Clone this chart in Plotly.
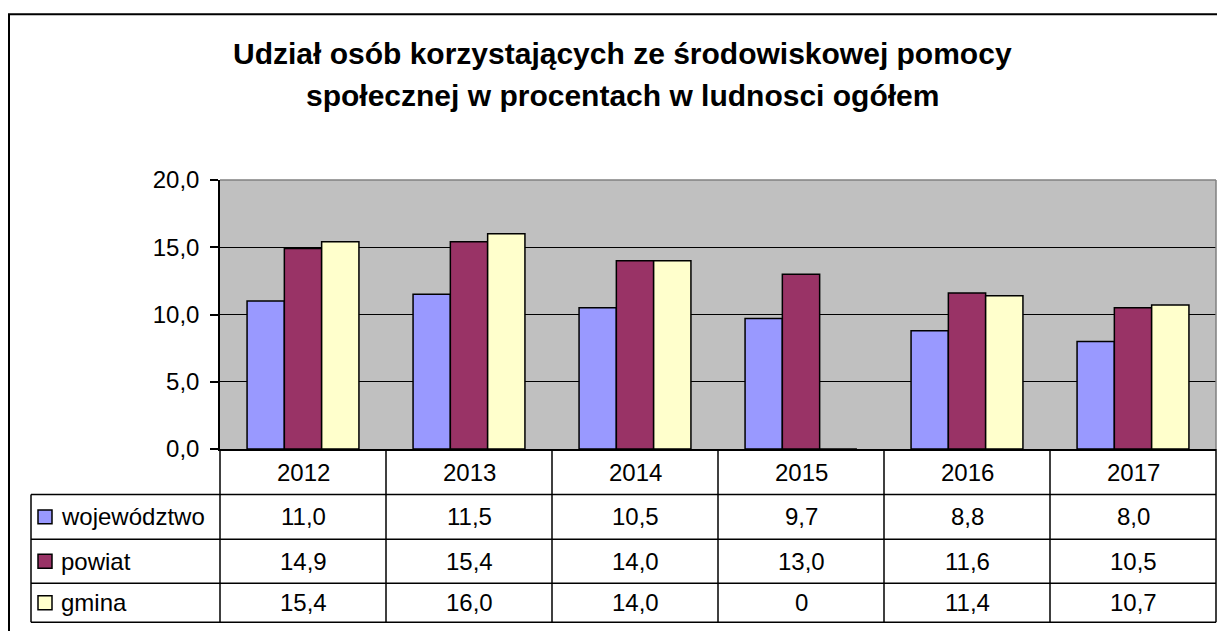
import plotly.graph_objects as go

years = ["2012", "2013", "2014", "2015", "2016", "2017"]
series_names = ["województwo", "powiat", "gmina"]
wojewodztwo = [11.0, 11.5, 10.5, 9.7, 8.8, 8.0]
powiat = [14.9, 15.4, 14.0, 13.0, 11.6, 10.5]
gmina = [15.4, 16.0, 14.0, 0, 11.4, 10.7]
series_values = [wojewodztwo, powiat, gmina]
series_colors = ["#9999FF", "#993366", "#FFFFCC"]
y_ticks = [0, 5, 10, 15, 20]
title_lines = ["Udział osób korzystających ze środowiskowej pomocy",
               "społecznej w procentach w ludnosci ogółem"]

OFF = 8  # page body margin
W, H = 1225 - 2 * OFF, 639 - 2 * OFF
# plot area in page pixels
L, R, T, B = 220, 1216, 180, 449.5
FONT = "Liberation Sans, Arial, sans-serif"


def px(x):
    return (x - L) / (R - L)


def py(y):
    return (B - y) / (B - T)


def fmt(v):
    if v == 0:
        return "0"
    return f"{v:.1f}".replace(".", ",")


fig = go.Figure()
n = len(years)
for name, vals, col in zip(series_names, series_values, series_colors):
    fig.add_trace(go.Bar(
        x=years, y=vals, name=name,
        marker=dict(color=col, line=dict(color="black", width=1.5)),
        showlegend=False, hoverinfo="x+y+name",
    ))

shapes = []
annotations = []

# outer border
shapes.append(dict(type="rect", xref="paper", yref="paper",
                   x0=px(9), x1=px(1300), y0=py(14), y1=py(720),
                   line=dict(color="black", width=2), layer="below"))
# plot area border (gray top/right)
shapes.append(dict(type="line", xref="paper", yref="paper",
                   x0=0, x1=1, y0=1, y1=1, line=dict(color="#808080", width=1.5)))
shapes.append(dict(type="line", xref="paper", yref="paper",
                   x0=1, x1=1, y0=0, y1=1, line=dict(color="#808080", width=1.5)))

# table geometry
row_edges = [B, 495, 540, 584, 623]
tab_left = 31
for i in range(n + 1):
    xp = i / n
    shapes.append(dict(type="line", xref="paper", yref="paper",
                       x0=xp, x1=xp, y0=py(B), y1=py(row_edges[-1]),
                       line=dict(color="black", width=1.5)))
shapes.append(dict(type="line", xref="paper", yref="paper",
                   x0=px(tab_left), x1=px(tab_left), y0=py(row_edges[1]), y1=py(row_edges[-1]),
                   line=dict(color="black", width=1.5)))
for ye in row_edges[1:]:
    shapes.append(dict(type="line", xref="paper", yref="paper",
                       x0=px(tab_left), x1=1, y0=py(ye), y1=py(ye),
                       line=dict(color="black", width=1.5)))

tfont = dict(family=FONT, size=24, color="black")
hdr_c = (row_edges[0] + row_edges[1]) / 2 + 1
for i, yr in enumerate(years):
    annotations.append(dict(x=i, y=py(hdr_c), xref="x", yref="paper", text=yr,
                            showarrow=False, font=tfont, xanchor="center", yanchor="middle"))
for r, (name, vals, col) in enumerate(zip(series_names, series_values, series_colors)):
    yc = (row_edges[r + 1] + row_edges[r + 2]) / 2
    shapes.append(dict(type="rect", xref="paper", yref="paper",
                       x0=px(38), x1=px(52), y0=py(yc - 7), y1=py(yc + 7),
                       fillcolor=col, line=dict(color="black", width=1.5)))
    annotations.append(dict(x=px(59), y=py(yc), xref="paper", yref="paper", text=name,
                            showarrow=False, font=tfont, xanchor="left", yanchor="middle"))
    for i, v in enumerate(vals):
        annotations.append(dict(x=i, y=py(yc), xref="x", yref="paper", text=fmt(v),
                                showarrow=False, font=tfont, xanchor="center", yanchor="middle"))

# title
for line, yc in zip(title_lines, [53.5, 95.5]):
    annotations.append(dict(x=px(622), y=py(yc), xref="paper", yref="paper", text="<b>" + line + "</b>",
                            showarrow=False, font=dict(family=FONT, size=30, color="black"),
                            xanchor="center", yanchor="middle"))

fig.update_layout(
    width=W, height=H,
    margin=dict(l=L - OFF, r=W - (R - OFF), t=T - OFF, b=H - (B - OFF), pad=0),
    paper_bgcolor="white", plot_bgcolor="#C0C0C0",
    barmode="group", bargap=0.326, bargroupgap=0,
    separators=", ",
    shapes=shapes, annotations=annotations,
    font=dict(family=FONT, color="black"),
)
fig.update_xaxes(type="category", showticklabels=False, showline=True, linecolor="black", linewidth=1.5,
                 showgrid=False, ticks="", range=[-0.5, n - 0.5])
fig.update_yaxes(range=[0, 20], tickvals=y_ticks, tickformat=".1f", showgrid=True,
                 gridcolor="black", gridwidth=1, showline=True, linecolor="black", linewidth=1.5,
                 ticks="outside", ticklen=8, tickcolor="black", tickwidth=1.5,
                 tickfont=dict(family=FONT, size=24, color="black"), ticklabelstandoff=6,
                 zeroline=False)

fig.write_html("out.html")
